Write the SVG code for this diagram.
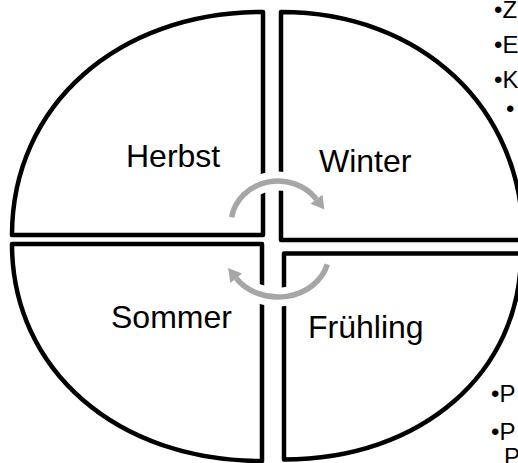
<svg xmlns="http://www.w3.org/2000/svg" width="518" height="463" viewBox="0 0 518 463">
<style>
.q{fill:#fff;stroke:#000;stroke-width:4.5;stroke-linejoin:round}
.lbl{font-family:"Liberation Sans",Arial,sans-serif;font-size:32px;fill:#000}
.blt{font-family:"Liberation Sans",Arial,sans-serif;font-size:24px;fill:#000}
.arr{fill:none;stroke:#A6A6A6;stroke-width:5.5}
.halo{fill:none;stroke:#fff;stroke-width:19}
</style>
<defs>
<marker id="ah" markerUnits="userSpaceOnUse" markerWidth="20" markerHeight="20" refX="0" refY="0" orient="auto" overflow="visible">
<path d="M0,-7.5 L13,0 L0,7.5 Z" fill="#A6A6A6"/>
</marker>
<marker id="ahw" markerUnits="userSpaceOnUse" markerWidth="20" markerHeight="20" refX="0" refY="0" orient="auto" overflow="visible">
<path d="M0,-7.5 L13,0 L0,7.5 Z" fill="#fff" stroke="#fff" stroke-width="13" stroke-linejoin="round"/>
</marker>
</defs>
<rect width="518" height="463" fill="#fff"/>
<g id="herbst">
<path class="q" d="M263,12 V235 H12 C12,105.7 117.4,12 263,12 Z"/>
<text class="lbl" x="126" y="167">Herbst</text>
</g>
<g id="winter">
<path class="q" d="M281,12 C421.4,12 523,107.8 523,240 H281 Z"/>
<text class="lbl" x="319" y="172">Winter</text>
</g>
<g id="sommer">
<path class="q" d="M262,244 V461 C117,461 12,369.9 12,244 Z"/>
<text class="lbl" x="111" y="328">Sommer</text>
</g>
<g id="fruehling">
<path class="q" d="M284,253.5 H521 C521,373 421.5,459.5 284,459.5 Z"/>
<text class="lbl" x="308" y="338">Frühling</text>
</g>
<g id="connectors">
<path class="halo" d="M231.6,217.3 A47,43 0 0 1 316.5,199.3" marker-end="url(#ahw)"/>
<path class="halo" d="M327.3,264.4 A51,44 0 0 1 236.2,278.2" marker-end="url(#ahw)"/>
<path class="arr" d="M231.6,217.3 A47,43 0 0 1 316.5,199.3" marker-end="url(#ah)"/>
<path class="arr" d="M327.3,264.4 A51,44 0 0 1 236.2,278.2" marker-end="url(#ah)"/>
</g>
<g id="notes-top">
<text class="blt" x="494" y="18">•Z</text>
<text class="blt" x="494" y="53">•E</text>
<text class="blt" x="494" y="88">•K</text>
<text class="blt" x="506" y="117">•</text>
</g>
<g id="notes-bottom">
<text class="blt" x="491" y="402">•P</text>
<text class="blt" x="491" y="440">•P</text>
<text class="blt" x="504" y="465">P</text>
</g>
</svg>
